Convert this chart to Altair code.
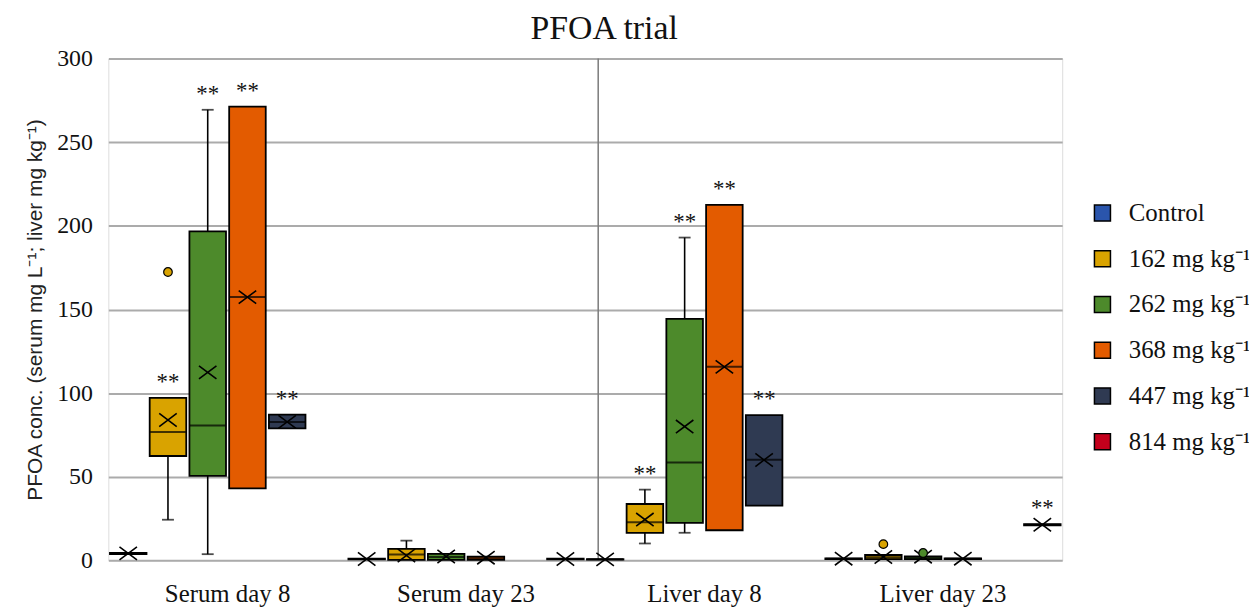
import altair as alt
import pandas as pd

categories = ["Serum day 8", "Serum day 23", "Liver day 8", "Liver day 23"]
series = ["Control", "162 mg kg⁻¹", "262 mg kg⁻¹", "368 mg kg⁻¹", "447 mg kg⁻¹", "814 mg kg⁻¹"]
colors = ["#2a55ac", "#d9a300", "#4d8a2b", "#e35b00", "#2f3a52", "#c4001c"]

# one entry per drawn box: category index and series index
box_cat = [0, 0, 0, 0, 0, 1, 1, 1, 1, 1, 2, 2, 2, 2, 2, 3, 3, 3, 3, 3]
box_ser = [0, 1, 2, 3, 4, 0, 1, 2, 3, 5, 0, 1, 2, 3, 4, 0, 1, 2, 3, 5]
lo   = [3.8, 24.3, 3.7, 43.0, 78.9,   0.6, 0.3, 0.3, 0.3, 0.6,   0.4, 10.1, 16.5, 18.0, 32.7,   0.8, 0.7, 0.7, 0.8, 21.0]
q1   = [3.8, 62.4, 50.5, 43.0, 78.9,  0.6, 0.3, 0.3, 0.3, 0.6,   0.4, 16.5, 22.4, 18.0, 32.7,   0.8, 0.7, 0.7, 0.8, 21.0]
med  = [4.2, 76.8, 80.6, 157.4, 82.8, 0.8, 3.5, 2.0, 1.2, 0.8,   0.6, 22.8, 58.5, 115.7, 60.1,  1.0, 1.8, 1.5, 1.0, 21.3]
q3   = [4.5, 97.2, 196.7, 271.3, 87.1, 1.0, 6.9, 3.9, 2.3, 1.0,  0.8, 33.7, 144.4, 212.5, 86.9, 1.2, 3.2, 2.4, 1.2, 21.6]
hi   = [4.5, 97.2, 269.4, 271.3, 87.1, 1.0, 11.8, 3.9, 2.3, 1.0, 0.8, 42.3, 193.0, 212.5, 86.9, 1.2, 3.2, 2.4, 1.2, 21.6]
mean = [4.2, 83.9, 112.4, 157.4, 82.8, 0.8, 2.9, 2.3, 1.6, 0.8,  0.6, 24.4, 80.0, 115.7, 60.0,  1.0, 2.0, 2.2, 1.0, 21.3]
sig  = ["", "**", "**", "**", "**", "", "", "", "", "", "", "**", "**", "**", "**", "", "", "", "", "**"]

out_cat = [0, 3, 3]
out_ser = [1, 1, 2]
out_val = [172.4, 9.7, 4.4]

boxes = pd.DataFrame({
    "cat": [categories[i] for i in box_cat],
    "ser": [series[i] for i in box_ser],
    "lo": lo, "q1": q1, "med": med, "q3": q3, "hi": hi, "mean": mean, "sig": sig,
})
outliers = pd.DataFrame({
    "cat": [categories[i] for i in out_cat],
    "ser": [series[i] for i in out_ser],
    "val": out_val,
})
sep = pd.DataFrame({"cat": [categories[2]]})

serif = "Liberation Serif"
W, H = 960, 505

x_enc = alt.X("cat:N", sort=categories,
              scale=alt.Scale(domain=categories, paddingInner=0, paddingOuter=0),
              axis=alt.Axis(title=None, labelAngle=0, labelAlign="center", ticks=False,
                            domain=False, bandPosition=0.5,
                            labelFont=serif, labelFontSize=25, labelColor="#111",
                            labelPadding=33))
xo_enc = alt.XOffset("ser:N", scale=alt.Scale(domain=series, paddingInner=0.08, paddingOuter=0.04))
y_scale = alt.Scale(domain=[0, 300], nice=False)
color_scale = alt.Scale(domain=series, range=colors)

base = alt.Chart(boxes).encode(x=x_enc, xOffset=xo_enc)

rect = base.mark_rect(stroke="black", strokeWidth=1.8).encode(
    y=alt.Y("q1:Q", scale=y_scale,
            axis=alt.Axis(values=[0, 50, 100, 150, 200, 250, 300], grid=True,
                          gridColor="#ababab", gridWidth=2, ticks=False, domain=False,
                          labelFont=serif, labelFontSize=24, labelColor="#111",
                          labelPadding=16,
                          title="PFOA conc. (serum mg L⁻¹; liver mg kg⁻¹)",
                          titleFont="Liberation Sans", titleFontSize=21,
                          titleFontWeight="normal", titleColor="#222",
                          titlePadding=11)),
    y2="q3:Q",
    color=alt.Color("ser:N", scale=color_scale,
                    legend=alt.Legend(title=None, orient="none", legendX=988, legendY=143,
                                      symbolType="square", symbolSize=260,
                                      symbolStrokeColor="black", symbolStrokeWidth=1.5,
                                      labelFont=serif, labelFontSize=25, labelColor="#111",
                                      labelOffset=14, rowPadding=20, padding=0,
                                      labelLimit=300)),
)

whisk_hi = base.mark_rule(color="black", strokeWidth=1.6).encode(
    y=alt.Y("hi:Q", scale=y_scale), y2="q3:Q")
whisk_lo = base.mark_rule(color="black", strokeWidth=1.6).encode(
    y=alt.Y("lo:Q", scale=y_scale), y2="q1:Q")
cap_hi = base.transform_filter("datum.hi > datum.q3").mark_tick(
    color="black", size=12, thickness=1.8).encode(y=alt.Y("hi:Q", scale=y_scale))
cap_lo = base.transform_filter("datum.lo < datum.q1").mark_tick(
    color="black", size=12, thickness=1.8).encode(y=alt.Y("lo:Q", scale=y_scale))
median = base.mark_tick(color="black", size=36, thickness=2).encode(
    y=alt.Y("med:Q", scale=y_scale))
mean_mark = base.mark_point(shape="M-1,-0.75L1,0.75M-1,0.75L1,-0.75", size=310,
                            filled=False, stroke="black", strokeWidth=1.6, opacity=1).encode(
    y=alt.Y("mean:Q", scale=y_scale))
stars = base.transform_filter("datum.sig != ''").mark_text(
    font=serif, fontSize=23, baseline="alphabetic", dy=-9, color="#111").encode(
    y=alt.Y("hi:Q", scale=y_scale), text="sig:N")

outl = alt.Chart(outliers).mark_point(filled=True, size=75, stroke="black",
                                      strokeWidth=1.2, opacity=1).encode(
    x=x_enc, xOffset=xo_enc,
    y=alt.Y("val:Q", scale=y_scale),
    fill=alt.Fill("ser:N", scale=color_scale, legend=None),
)

sep_rule = alt.Chart(sep).mark_rule(color="#7a7a7a", strokeWidth=1.5, xOffset=13).encode(
    x=alt.X("cat:N", sort=categories, bandPosition=0),
    y=alt.value(0), y2=alt.value(H),
)

chart = alt.layer(sep_rule, rect, whisk_hi, whisk_lo, cap_hi, cap_lo, median,
                  mean_mark, outl, stars).properties(
    width=W, height=H,
    padding={"left": 101, "top": 49, "right": 188, "bottom": 45},
    autosize=alt.AutoSizeParams(type="none"),
    title=alt.Title("PFOA trial", font=serif, fontSize=34, fontWeight="normal",
                    color="#111", offset=1, dx=19),
).configure_view(stroke="#8f8f8f", strokeWidth=2.5).configure(background="white")

chart.save("out.html", embed_options={"renderer": "svg", "actions": False})
